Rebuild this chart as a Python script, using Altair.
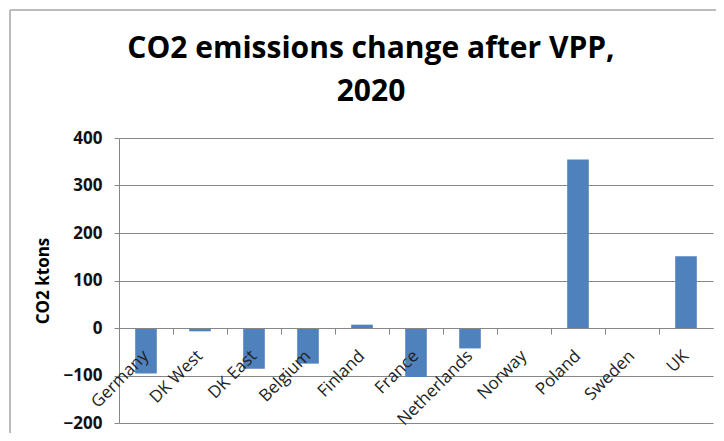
import altair as alt
import pandas as pd

countries = ["Germany", "DK West", "DK East", "Belgium", "Finland", "France",
             "Netherlands", "Norway", "Poland", "Sweden", "UK"]
co2_change = [-96, -7, -86, -75, 7, -103, -43, 0, 355, 0, 151]
y_ticks = [-200, -100, 0, 100, 200, 300, 400]

df = pd.DataFrame({"country": countries, "co2": co2_change})

W, H = 594, 285

bars = alt.Chart(df).mark_bar(color="#4F81BD", width=alt.RelativeBandSize(0.4)).encode(
    x=alt.X("country:N", sort=countries,
            scale=alt.Scale(paddingInner=0, paddingOuter=0),
            axis=alt.Axis(title=None, labelAngle=-45, labelAlign="right",
                          labelBaseline="middle", labelFont="Open Sans",
                          labelFontSize=17, labelColor="#222222",
                          labelPadding=19, bandPosition=0, tickSize=6,
                          tickColor="#868686", domainColor="#868686",
                          offset=-95, grid=False, zindex=1, labelOverlap=False)),
    y=alt.Y("co2:Q", scale=alt.Scale(domain=[-200, 400], nice=False),
            axis=alt.Axis(title="CO2 ktons", values=y_ticks,
                          titleFont="Open Sans", titleFontSize=17,
                          titleFontWeight="bold", titleColor="#000000",
                          titlePadding=11,
                          labelFont="Open Sans", labelFontSize=17,
                          labelFontWeight="bold", labelColor="#111111",
                          labelPadding=12, tickSize=5, tickColor="#868686",
                          domainColor="#868686", gridColor="#868686",
                          gridWidth=1)),
)

frame = alt.Chart(pd.DataFrame({"k": [0]})).mark_rule(color="#a6a6a6", strokeWidth=1.5).encode(
    x=alt.value(-109), x2=alt.value(W + 40), y=alt.value(-128)
)
frame_left = alt.Chart(pd.DataFrame({"k": [0]})).mark_rule(color="#a6a6a6", strokeWidth=1.5).encode(
    x=alt.value(-109), y=alt.value(-128), y2=alt.value(H + 40)
)

chart = alt.layer(frame, frame_left, bars).properties(
    width=W, height=H,
    title=alt.TitleParams(["CO2 emissions change after VPP,", "2020"],
                          font="Open Sans", fontSize=30, fontWeight="bold",
                          color="#000000", lineHeight=43, anchor="middle",
                          dx=-45, offset=0, dy=98),
    autosize=alt.AutoSizeParams(type="none"),
    padding={"left": 111, "top": 130, "right": 3, "bottom": 10},
).configure_view(stroke=None)

chart.save("out.html", embed_options={"renderer": "svg", "actions": False})
